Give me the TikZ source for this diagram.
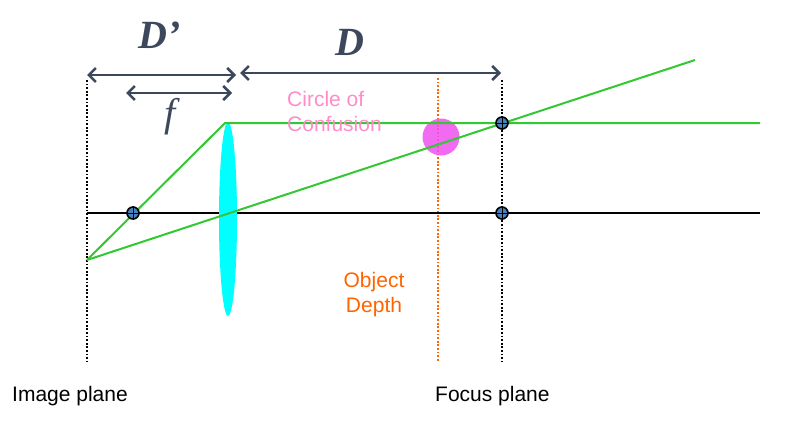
\documentclass[tikz,border=0pt]{standalone}
\usepackage{fontspec}
\setmainfont{Liberation Sans}
\newfontfamily\serifb{Liberation Serif}
\usetikzlibrary{arrows.meta}
\definecolor{slate}{RGB}{62,72,92}
\definecolor{lgreen}{RGB}{50,200,50}
\definecolor{cyanf}{RGB}{0,255,255}
\definecolor{magf}{RGB}{240,80,240}
\definecolor{pinkt}{RGB}{255,140,200}
\definecolor{orangel}{RGB}{255,100,0}
\definecolor{ptfill}{RGB}{70,130,190}
\begin{document}
\begin{tikzpicture}[x=1pt,y=-1pt,
  plane/.style={black,line width=1.8pt,dash pattern=on 1.8pt off 1.8pt},
  ray/.style={draw=lgreen,line width=2pt},
  dim/.style={draw=slate,line width=2.5pt,<->,>={Straight Barb[length=7pt,width=14pt]}},
  pt/.style={circle,draw=black,line width=1.6pt,fill=ptfill,inner sep=0pt,minimum size=12pt},
  lbl/.style={font=\fontsize{21}{25}\selectfont,align=left}]
\useasboundingbox (0,0) rectangle (786,423);
\coordinate (ip1) at (87,80); \coordinate (ip2) at (87,362);
\coordinate (fp1) at (502,80); \coordinate (fp2) at (502,362);
\coordinate (od1) at (438,78); \coordinate (od2) at (438,362);
\draw[plane] (ip1) -- (ip2);
\draw[plane] (fp1) -- (fp2);
\draw[plane,draw=orangel] (od1) -- (od2);
\coordinate (ax1) at (87,213); \coordinate (ax2) at (760,213);
\draw[black,line width=2pt] (ax1) -- (ax2);
\fill[cyanf] (228,219) ellipse (9 and 97);
\fill[magf,opacity=0.85] (441,137) circle (18.5);
\coordinate (im) at (87,260); \coordinate (lt) at (225,123);
\coordinate (r1) at (760,123); \coordinate (r2) at (695,60);
\draw[ray] (im) -- (lt) -- (r1);
\draw[ray] (im) -- (r2);
\foreach \n/\p in {a/{(133,213)},b/{(502,213)},c/{(502,123)}}{
  \node[pt] (\n) at \p {};
  \draw[black,line width=0.8pt] (\n.north) -- (\n.south) (\n.west) -- (\n.east);
}
\coordinate (dpa) at (87,75); \coordinate (dpb) at (236,75);
\coordinate (fa) at (126,93); \coordinate (fb) at (232,93);
\coordinate (da) at (240,73); \coordinate (db) at (501,73);
\draw[dim] (dpa) -- (dpb);
\draw[dim] (fa) -- (fb);
\draw[dim] (da) -- (db);
\node[text=slate,font=\serifb\bfseries\itshape\fontsize{40}{40}\selectfont] (dp) at (160,35) {D’};
\node[text=slate,font=\serifb\bfseries\itshape\fontsize{40}{40}\selectfont] (d) at (350,42) {D};
\node[text=slate,font=\serifb\itshape\fontsize{40}{40}\selectfont] (f) at (170,117) {f};
\node[lbl,text=pinkt,anchor=west,inner sep=0pt] (coc) at (287,111) {Circle of\\Confusion};
\node[lbl,text=orangel,align=center,inner sep=0pt] (odl) at (374,295) {Object\\Depth};
\node[lbl,anchor=west,inner sep=0pt] (ipl) at (12,396) {Image plane};
\node[lbl,anchor=west,inner sep=0pt] (fpl) at (435,396) {Focus plane};
\end{tikzpicture}
\end{document}
